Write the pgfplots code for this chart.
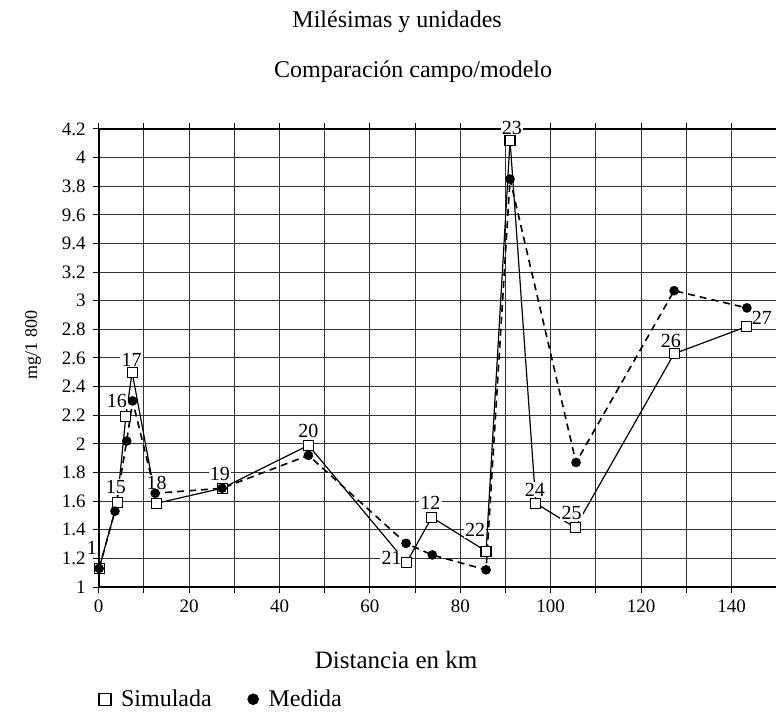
\documentclass[border=0pt]{standalone}
\usepackage{fontspec}
\setmainfont{Liberation Serif}
\usepackage{pgfplots}
\pgfplotsset{compat=1.18}
\begin{document}
\begin{tikzpicture}
\begin{axis}[
  scale only axis,
  width=342.4pt, height=229pt,
  at={(0,0)}, anchor=south west,
  xmin=0, xmax=151.5,
  ymin=1, ymax=4.2,
  clip=false,
  axis line style={line width=1.1pt},
  grid=major,
  grid style={line width=0.5pt, black!80},
  tick style={line width=0.5pt, black},
  tick align=outside,
  major tick length=3pt,
  xtick={0,10,20,30,40,50,60,70,80,90,100,110,120,130,140},
  xticklabels={0,,20,,40,,60,,80,,100,,120,,140},
  ytick={1,1.2,1.4,1.6,1.8,2,2.2,2.4,2.6,2.8,3,3.2,3.4,3.6,3.8,4,4.2},
  yticklabels={1,1.2,1.4,1.6,1.8,2,2.2,2.4,2.6,2.8,3,3.2,9.4,9.6,3.8,4,4.2},
  /pgf/number format/assume math mode=true,
  tick label style={font=\fontsize{9.5}{11}\selectfont},
  legend columns=2,
  legend style={draw=none, fill=none, at={(0,-0.245)}, anchor=west,
    font=\fontsize{12}{14}\selectfont, inner sep=0pt,
    /tikz/every odd column/.append style={column sep=3pt},
    /tikz/every even column/.append style={column sep=16pt}},
  legend image code/.code={\draw[#1] plot coordinates {(0.12cm,0cm)};},
]
\addplot[black, line width=0.6pt, mark=square*, mark size=2.5pt,
  mark options={fill=white, solid, line width=0.6pt}, forget plot] coordinates {
(0.1,1.13) (4.1,1.59) (6.0,2.19) (7.4,2.50) (12.8,1.585) (27.3,1.69)
(46.4,1.99) (68.1,1.17) (73.7,1.487) (85.7,1.25) (91.0,4.12) (96.7,1.585)
(105.4,1.415) (127.3,2.63) (143.4,2.82)
};
\addplot[black, line width=0.8pt, dashed, dash pattern=on 3.5pt off 2.5pt,
  mark=*, mark size=2pt, mark options={solid, fill=black}, forget plot] coordinates {
(0.1,1.13) (3.6,1.53) (6.2,2.02) (7.5,2.30) (12.5,1.655) (27.3,1.69)
(46.4,1.92) (68.0,1.305) (73.8,1.224) (85.7,1.12) (91.0,3.85)
(105.6,1.87) (127.3,3.07) (143.4,2.95)
};
\addlegendimage{only marks, mark=square, mark size=3pt, line width=0.6pt, black}
\addlegendentry{Simulada}
\addlegendimage{only marks, mark=*, mark size=2.7pt, black}
\addlegendentry{Medida}
\begin{scope}[every node/.style={fill=white, inner sep=0.6pt, font=\fontsize{10}{12}\selectfont}]
\node at (axis cs:-1.5,1.27) {1};
\node at (axis cs:3.8,1.70) {15};
\node at (axis cs:4.0,2.30) {16};
\node at (axis cs:7.3,2.59) {17};
\node at (axis cs:12.8,1.73) {18};
\node at (axis cs:26.8,1.79) {19};
\node at (axis cs:46.4,2.09) {20};
\node at (axis cs:64.8,1.20) {21};
\node at (axis cs:73.4,1.585) {12};
\node at (axis cs:83.3,1.40) {22};
\node at (axis cs:91.4,4.21) {23};
\node at (axis cs:96.5,1.68) {24};
\node at (axis cs:104.6,1.515) {25};
\node at (axis cs:126.6,2.72) {26};
\node[fill=none] at (axis cs:146.7,2.88) {27};
\end{scope}
\end{axis}
\node[font=\fontsize{12}{14}\selectfont] at (149.2pt,282.5pt) {Milésimas y unidades};
\node[font=\fontsize{12}{14}\selectfont] at (157.2pt,257.5pt) {Comparación campo/modelo};
\node[font=\fontsize{12.5}{14}\selectfont] at (148.7pt,-36.5pt) {Distancia en km};
\node[font=\fontsize{9}{11}\selectfont, rotate=90] at (-32.8pt,121pt) {mg/1 800};
\pgfresetboundingbox
\path (-49.35pt,-62.5pt) rectangle (338.65pt,293.5pt);
\end{tikzpicture}
\end{document}
